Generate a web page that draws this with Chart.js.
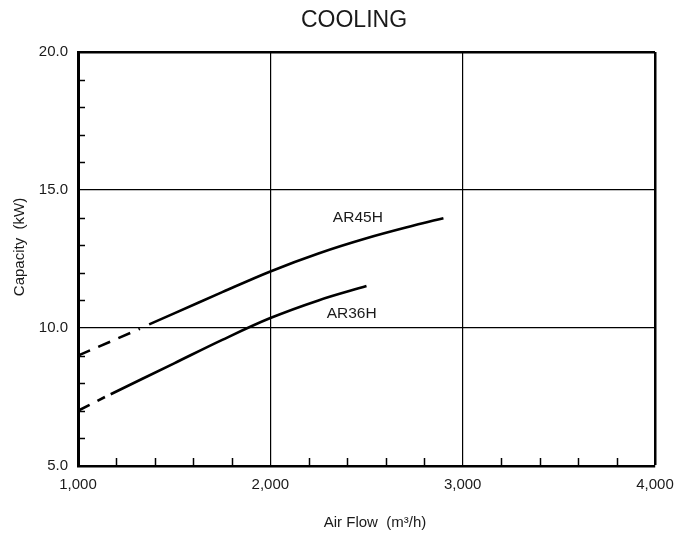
<!DOCTYPE html>
<html>
<head>
<meta charset="utf-8">
<script src="https://cdn.jsdelivr.net/npm/chart.js@4.4.0/dist/chart.umd.min.js"></script>
<style>
  body { margin: 0; background: #fff; }
  #coolingChart { display: block; }
</style>
</head>
<body>
<canvas id="coolingChart" width="684" height="538"></canvas>
<script>
// values
const ar45hFlow = [1370, 1500, 1750, 2000, 2250, 2500, 2750, 2900];
const ar45hCapacity = [10.13, 10.53, 11.3, 12.05, 12.7, 13.25, 13.72, 13.98];
const ar45hDashFlow = [1000, 1322];
const ar45hDashCapacity = [9.0, 9.97];

const ar36hFlow = [1170, 1500, 1750, 2000, 2250, 2500];
const ar36hCapacity = [7.6, 8.72, 9.57, 10.36, 11.0, 11.52];
const ar36hDashFlow = [1000, 1140];
const ar36hDashCapacity = [7.0, 7.5];

const seriesLabels = ['AR45H', 'AR36H'];
const labelPos = [[2455, 14.0], [2423, 10.5]];

const xMinorTicks = [1200, 1400, 1600, 1800, 2200, 2400, 2600, 2800, 3200, 3400, 3600, 3800];
const yMinorTicks = [6, 7, 8, 9, 11, 12, 13, 14, 16, 17, 18, 19];

const chartTitle = 'COOLING';
const xTitle = 'Air Flow  (m\u00B3/h)';
const yTitle = 'Capacity  (kW)';

const FONT = "'Liberation Sans', Arial, Helvetica, sans-serif";
const INK = '#1a1a1a';

function pts(xs, ys) {
  return xs.map((x, i) => ({ x: x, y: ys[i] }));
}

window.addEventListener('load', setup);

function setup() {
  const ctx = document.getElementById('coolingChart').getContext('2d');

  const extras = {
    id: 'extras',
    afterDatasetsDraw(chart) {
      const c = chart.ctx;
      const xs = chart.scales.x;
      const ys = chart.scales.y;
      c.save();
      // minor ticks, inward
      c.strokeStyle = '#000';
      c.lineWidth = 1.5;
      xMinorTicks.forEach(v => {
        const px = Math.round(xs.getPixelForValue(v)) + 0.5;
        c.beginPath();
        c.moveTo(px, ys.bottom);
        c.lineTo(px, ys.bottom - 8);
        c.stroke();
      });
      yMinorTicks.forEach(v => {
        const py = Math.round(ys.getPixelForValue(v)) + 0.5;
        c.beginPath();
        c.moveTo(xs.left, py);
        c.lineTo(xs.left + 7, py);
        c.stroke();
      });
      // series labels
      c.fillStyle = INK;
      c.font = '15.5px ' + FONT;
      c.textAlign = 'center';
      c.textBaseline = 'middle';
      seriesLabels.forEach((t, i) => {
        c.fillText(t, xs.getPixelForValue(labelPos[i][0]), ys.getPixelForValue(labelPos[i][1]));
      });
      // axis titles (sit a little off the plot centre in the original)
      c.font = '15px ' + FONT;
      c.fillText(xTitle, 375, 523);
      c.save();
      c.translate(20, 247);
      c.rotate(-Math.PI / 2);
      c.fillText(yTitle, 0, 0);
      c.restore();
      // title
      c.font = '23px ' + FONT;
      c.fillText(chartTitle, 354, 21);
      c.restore();
    }
  };

  const lineStyle = {
    borderColor: '#000',
    borderWidth: 2.6,
    pointRadius: 0,
    showLine: true,
    fill: false,
    tension: 0.35
  };

  new Chart(ctx, {
    type: 'scatter',
    data: {
      datasets: [
        Object.assign({ label: 'AR45H', data: pts(ar45hFlow, ar45hCapacity) }, lineStyle),
        Object.assign({ label: 'AR45H ext', data: pts(ar45hDashFlow, ar45hDashCapacity), borderDash: [13, 9] }, lineStyle),
        Object.assign({ label: 'AR36H', data: pts(ar36hFlow, ar36hCapacity) }, lineStyle),
        Object.assign({ label: 'AR36H ext', data: pts(ar36hDashFlow, ar36hDashCapacity), borderDash: [13, 9] }, lineStyle)
      ]
    },
    options: {
      responsive: false,
      animation: false,
      layout: { padding: { left: 0, right: 29, top: 52, bottom: 0 } },
      plugins: {
        legend: { display: false },
        tooltip: { enabled: false }
      },
      scales: {
        x: {
          type: 'linear',
          min: 1000,
          max: 4000,
          afterFit: s => { s.height = 72; },
          ticks: {
            stepSize: 1000,
            padding: 10,
            color: INK,
            font: { family: FONT, size: 15 },
            callback: v => v.toLocaleString('en-US')
          },
          grid: {
            drawTicks: false,
            color: '#000',
            lineWidth: c => (c.tick && c.tick.value === 4000 ? 2.5 : 1.2)
          },
          border: { color: '#000', width: 2.5 }
        },
        y: {
          min: 5,
          max: 20,
          afterFit: s => { s.width = 78; },
          ticks: {
            stepSize: 5,
            padding: 10,
            color: INK,
            font: { family: FONT, size: 15 },
            callback: v => v.toFixed(1)
          },
          grid: {
            drawTicks: false,
            color: '#000',
            lineWidth: c => (c.tick && c.tick.value === 20 ? 2.5 : 1.2)
          },
          border: { color: '#000', width: 3 }
        }
      }
    },
    plugins: [extras]
  });
}
</script>
</body>
</html>
